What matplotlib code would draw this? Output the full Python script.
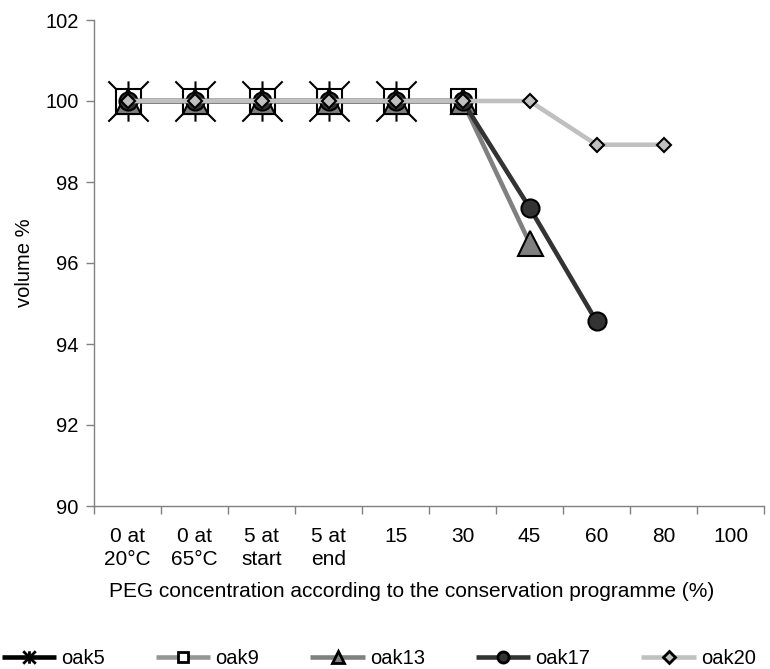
import matplotlib
matplotlib.use("Agg")
import matplotlib.pyplot as plt
from matplotlib.path import Path
from matplotlib.lines import Line2D

plt.rcParams['font.family'] = ['Liberation Sans', 'DejaVu Sans']

categories = ['0 at\n20°C', '0 at\n65°C', '5 at\nstart', '5 at\nend', '15', '30', '45', '60', '80', '100']
oak5 = [100, 100, 100, 100, 100]
oak9 = [100, 100, 100, 100, 100, 100]
oak13 = [100, 100, 100, 100, 100, 100, 96.5]
oak17 = [100, 100, 100, 100, 100, 100, 97.37, 94.56]
oak20 = [100, 100, 100, 100, 100, 100, 100, 98.92, 98.92]
yticks = [90, 92, 94, 96, 98, 100, 102]

# Excel-style star marker: X plus vertical line
star = Path([(-1, -1), (1, 1), (-1, 1), (1, -1), (0, -1), (0, 1)],
            [Path.MOVETO, Path.LINETO, Path.MOVETO, Path.LINETO, Path.MOVETO, Path.LINETO])

fig = plt.figure(figsize=(7.7, 6.69), dpi=100)
ax = fig.add_axes([94/770, 1-506/669, 670/770, 486/669])

series = [
    ('oak5', oak5, '#000000', star, 29, 'none', 9),
    ('oak9', oak9, '#969696', 's', 18, 'white', 7),
    ('oak13', oak13, '#808080', '^', 18, '#808080', 9),
    ('oak17', oak17, '#333333', 'o', 13, '#333333', 8),
    ('oak20', oak20, '#c0c0c0', 'D', 7, '#c0c0c0', 6.5),
]
handles = []
for name, vals, col, mk, ms, mfc, lms in series:
    xs = list(range(len(vals)))
    ax.plot(xs, vals, color=col, lw=3.3, marker=mk, ms=ms, mfc=mfc,
            mec='black', mew=1.5, solid_capstyle='butt', zorder=3)
    handles.append(Line2D([], [], color=col, lw=3.3, marker=mk,
                          ms=lms, mfc=mfc, mec='black', mew=2,
                          solid_capstyle='butt'))

ax.set_xlim(-0.5, len(categories) - 0.5)
ax.set_ylim(90, 102)
ax.set_yticks(yticks)
ax.set_yticklabels([str(v) for v in yticks])
ax.set_xticks(range(len(categories)))
ax.set_xticklabels(categories, linespacing=1.3, va='top')
ax.set_xticks([i - 0.5 for i in range(len(categories) + 1)], minor=True)
ax.tick_params(axis='x', which='major', length=0, pad=15, labelsize=15)
ax.tick_params(axis='x', which='minor', length=6, color='#808080', width=1)
ax.tick_params(axis='y', length=6, color='#808080', width=1, pad=5, labelsize=14.5)
for s in ['top', 'right']:
    ax.spines[s].set_visible(False)
for s in ['left', 'bottom']:
    ax.spines[s].set_color('#808080')
    ax.spines[s].set_linewidth(1)

ax.set_ylabel('volume %', fontsize=14.5, labelpad=8)
ax.set_xlabel('PEG concentration according to the conservation programme (%)', fontsize=15, labelpad=9)
ax.xaxis.label.set_x((412 - 94) / 670)

fig.legend(handles, [s[0] for s in series], loc='lower left', bbox_to_anchor=(-0.003, -0.005),
           ncol=5, frameon=False, fontsize=14.5, handlelength=2.69, handletextpad=0.25,
           columnspacing=2.55, borderaxespad=0, borderpad=0.2)

fig.savefig('out.png', dpi=100)
